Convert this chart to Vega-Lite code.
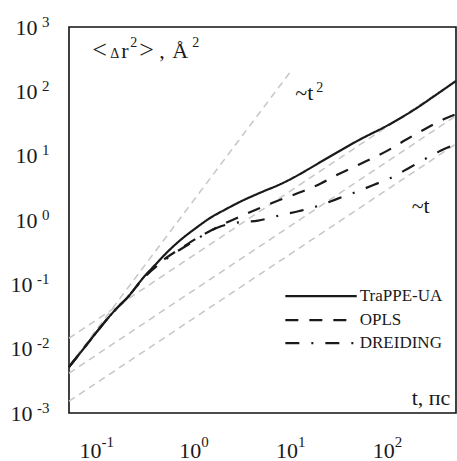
{
  "$schema": "https://vega.github.io/schema/vega-lite/v6.json",
  "width": 387,
  "height": 386,
  "autosize": {"type": "none"},
  "padding": {"left": 69, "top": 27, "right": 1, "bottom": 48},
  "background": "white",
  "config": {
    "view": {"stroke": "#111111", "strokeWidth": 1.6},
    "axis": {"domain": false, "grid": false, "labelFont": "Liberation Serif", "labelColor": "#1a1a1a", "title": null}
  },
  "datasets": {
    "guides": [
      {"g": "t2", "t": 0.05, "v": 0.00535}, {"g": "t2", "t": 9.7, "v": 201},
      {"g": "a", "t": 0.05, "v": 0.01455}, {"g": "a", "t": 500, "v": 145.5},
      {"g": "b", "t": 0.05, "v": 0.00416}, {"g": "b", "t": 500, "v": 41.6},
      {"g": "c", "t": 0.05, "v": 0.001525}, {"g": "c", "t": 500, "v": 15.25}
    ],
    "curves": [
      {"series": "TraPPE-UA", "t": 0.05, "v": 0.0052}, {"series": "TraPPE-UA", "t": 0.07, "v": 0.0098},
      {"series": "TraPPE-UA", "t": 0.1, "v": 0.0194}, {"series": "TraPPE-UA", "t": 0.15, "v": 0.04},
      {"series": "TraPPE-UA", "t": 0.2, "v": 0.062}, {"series": "TraPPE-UA", "t": 0.3, "v": 0.132},
      {"series": "TraPPE-UA", "t": 0.4, "v": 0.21}, {"series": "TraPPE-UA", "t": 0.5, "v": 0.3},
      {"series": "TraPPE-UA", "t": 0.7, "v": 0.48}, {"series": "TraPPE-UA", "t": 1.0, "v": 0.73},
      {"series": "TraPPE-UA", "t": 1.5, "v": 1.12}, {"series": "TraPPE-UA", "t": 2.0, "v": 1.42},
      {"series": "TraPPE-UA", "t": 3.0, "v": 1.95}, {"series": "TraPPE-UA", "t": 5.0, "v": 2.75},
      {"series": "TraPPE-UA", "t": 7.5, "v": 3.55}, {"series": "TraPPE-UA", "t": 10, "v": 4.4},
      {"series": "TraPPE-UA", "t": 15, "v": 6.2}, {"series": "TraPPE-UA", "t": 20, "v": 8.0},
      {"series": "TraPPE-UA", "t": 30, "v": 11.4}, {"series": "TraPPE-UA", "t": 50, "v": 17.6},
      {"series": "TraPPE-UA", "t": 100, "v": 30}, {"series": "TraPPE-UA", "t": 200, "v": 56},
      {"series": "TraPPE-UA", "t": 300, "v": 85}, {"series": "TraPPE-UA", "t": 500, "v": 145},
      {"series": "OPLS", "t": 0.05, "v": 0.0052}, {"series": "OPLS", "t": 0.07, "v": 0.0098},
      {"series": "OPLS", "t": 0.1, "v": 0.0194}, {"series": "OPLS", "t": 0.15, "v": 0.04},
      {"series": "OPLS", "t": 0.2, "v": 0.062}, {"series": "OPLS", "t": 0.3, "v": 0.13},
      {"series": "OPLS", "t": 0.4, "v": 0.195}, {"series": "OPLS", "t": 0.5, "v": 0.255},
      {"series": "OPLS", "t": 0.7, "v": 0.355}, {"series": "OPLS", "t": 1.0, "v": 0.5},
      {"series": "OPLS", "t": 1.5, "v": 0.7}, {"series": "OPLS", "t": 2.0, "v": 0.87},
      {"series": "OPLS", "t": 3.0, "v": 1.15}, {"series": "OPLS", "t": 5.0, "v": 1.6},
      {"series": "OPLS", "t": 7.5, "v": 2.05}, {"series": "OPLS", "t": 10, "v": 2.4},
      {"series": "OPLS", "t": 20, "v": 3.7}, {"series": "OPLS", "t": 30, "v": 5.1},
      {"series": "OPLS", "t": 50, "v": 7.3}, {"series": "OPLS", "t": 100, "v": 12.2},
      {"series": "OPLS", "t": 150, "v": 17.5}, {"series": "OPLS", "t": 250, "v": 27},
      {"series": "OPLS", "t": 400, "v": 38.5}, {"series": "OPLS", "t": 500, "v": 44},
      {"series": "DREIDING", "t": 0.05, "v": 0.0052}, {"series": "DREIDING", "t": 0.07, "v": 0.0098},
      {"series": "DREIDING", "t": 0.1, "v": 0.0194}, {"series": "DREIDING", "t": 0.15, "v": 0.04},
      {"series": "DREIDING", "t": 0.2, "v": 0.062}, {"series": "DREIDING", "t": 0.3, "v": 0.128},
      {"series": "DREIDING", "t": 0.4, "v": 0.19}, {"series": "DREIDING", "t": 0.5, "v": 0.245},
      {"series": "DREIDING", "t": 0.7, "v": 0.345}, {"series": "DREIDING", "t": 1.0, "v": 0.48},
      {"series": "DREIDING", "t": 1.3, "v": 0.62}, {"series": "DREIDING", "t": 1.7, "v": 0.76},
      {"series": "DREIDING", "t": 2.2, "v": 0.86}, {"series": "DREIDING", "t": 3.0, "v": 0.93},
      {"series": "DREIDING", "t": 4.5, "v": 0.98}, {"series": "DREIDING", "t": 6.0, "v": 1.08},
      {"series": "DREIDING", "t": 7.5, "v": 1.18}, {"series": "DREIDING", "t": 12, "v": 1.38},
      {"series": "DREIDING", "t": 18, "v": 1.62}, {"series": "DREIDING", "t": 30, "v": 2.15},
      {"series": "DREIDING", "t": 47, "v": 2.75}, {"series": "DREIDING", "t": 70, "v": 3.5},
      {"series": "DREIDING", "t": 110, "v": 4.65}, {"series": "DREIDING", "t": 165, "v": 6.5},
      {"series": "DREIDING", "t": 240, "v": 8.9}, {"series": "DREIDING", "t": 350, "v": 12.0},
      {"series": "DREIDING", "t": 500, "v": 15.1}
    ],
    "legend": [
      {"series": "TraPPE-UA", "t1": 8.61, "t2": 47.1, "tl": 50.6, "v": 0.0655},
      {"series": "OPLS", "t1": 8.61, "t2": 47.1, "tl": 50.6, "v": 0.0277},
      {"series": "DREIDING", "t1": 8.61, "t2": 47.1, "tl": 50.6, "v": 0.0122}
    ],
    "brackets": [
      {"label": "<", "t": 0.0867, "v": 330},
      {"label": ">", "t": 0.266, "v": 330}
    ],
    "delta": [
      {"label": "Δ", "t": 0.1331, "v": 330}
    ],
    "notes": [
      {"label": "r", "t": 0.1731, "v": 330},
      {"label": ",", "t": 0.4286, "v": 330},
      {"label": "Å", "t": 0.5845, "v": 330},
      {"label": "~t", "t": 10.9, "v": 73.3},
      {"label": "~t", "t": 174, "v": 1.28},
      {"label": "t, пс", "t": 174, "v": 0.00132}
    ],
    "supers": [
      {"label": "2", "t": 0.2146, "v": 489},
      {"label": "2", "t": 0.9421, "v": 489},
      {"label": "2", "t": 18.0, "v": 97.5}
    ]
  },
  "layer": [
    {
      "data": {"name": "guides"},
      "mark": {"type": "line", "stroke": "#c6c6c6", "strokeWidth": 1.5, "strokeDash": [7, 5]},
      "encoding": {
        "x": {"field": "t", "type": "quantitative", "scale": {"type": "log", "domain": [0.05, 500], "nice": false},
          "axis": {"orient": "bottom", "values": [0.1, 1, 10, 100], "tickSize": 12, "tickOpacity": 0, "labelExpr": "'10'", "labelFontSize": 22, "labelBaseline": "top", "labelPadding": 15,
            "labelOffset": {"condition": {"test": "datum.value < 1", "value": -8}, "value": -5}}},
        "y": {"field": "v", "type": "quantitative", "scale": {"type": "log", "domain": [0.001, 1000], "nice": false},
          "axis": {"orient": "left", "values": [0.001, 0.01, 0.1, 1, 10, 100, 1000], "tickSize": 12, "tickOpacity": 0, "labelExpr": "'10'", "labelFontSize": 22, "labelBaseline": "middle",
            "labelPadding": {"condition": {"test": "datum.value < 1", "value": 25}, "value": 20}}},
        "detail": {"field": "g"}
      }
    },
    {
      "data": {"name": "curves"},
      "mark": {"type": "line", "stroke": "#1a1a1a", "strokeWidth": 2.2, "interpolate": "monotone"},
      "encoding": {
        "x": {"field": "t", "type": "quantitative", "scale": {"type": "log", "domain": [0.05, 500], "nice": false}, "axis": null},
        "y": {"field": "v", "type": "quantitative", "scale": {"type": "log", "domain": [0.001, 1000], "nice": false}, "axis": null},
        "strokeDash": {"field": "series", "type": "nominal", "scale": {"domain": ["TraPPE-UA", "OPLS", "DREIDING"], "range": [[1, 0], [13, 11], [14, 12, 2, 12]]}, "legend": null}
      }
    },
    {
      "data": {"name": "legend"},
      "mark": {"type": "rule", "stroke": "#1a1a1a", "strokeWidth": 2.2},
      "encoding": {
        "x": {"field": "t1", "type": "quantitative", "scale": {"type": "log", "domain": [0.05, 500], "nice": false},
          "axis": {"orient": "bottom", "values": [0.1, 1, 10, 100], "tickSize": 0, "tickOpacity": 0, "labelExpr": "'' + round(log(datum.value)/LN10)", "labelFontSize": 15, "labelAlign": "left", "labelBaseline": "top", "labelPadding": 21,
            "labelOffset": {"condition": {"test": "datum.value < 1", "value": 3}, "value": 6}}},
        "x2": {"field": "t2"},
        "y": {"field": "v", "type": "quantitative", "scale": {"type": "log", "domain": [0.001, 1000], "nice": false},
          "axis": {"orient": "left", "values": [0.001, 0.01, 0.1, 1, 10, 100, 1000], "tickSize": 0, "tickOpacity": 0, "labelExpr": "'' + round(log(datum.value)/LN10)", "labelFontSize": 15, "labelAlign": "right", "labelBaseline": "middle", "labelPadding": 20, "labelOffset": -6}},
        "strokeDash": {"field": "series", "type": "nominal", "legend": null}
      }
    },
    {
      "data": {"name": "legend"},
      "mark": {"type": "text", "font": "Liberation Serif", "fontSize": 17, "align": "left", "baseline": "middle", "color": "#1a1a1a"},
      "encoding": {
        "x": {"field": "tl", "type": "quantitative", "scale": {"type": "log", "domain": [0.05, 500], "nice": false}, "axis": null},
        "y": {"field": "v", "type": "quantitative", "scale": {"type": "log", "domain": [0.001, 1000], "nice": false}, "axis": null},
        "text": {"field": "series"}
      }
    },
    {
      "data": {"name": "brackets"},
      "mark": {"type": "text", "font": "Liberation Serif", "fontSize": 26, "align": "left", "baseline": "alphabetic", "color": "#1a1a1a"},
      "encoding": {
        "x": {"field": "t", "type": "quantitative", "scale": {"type": "log", "domain": [0.05, 500], "nice": false}, "axis": null},
        "y": {"field": "v", "type": "quantitative", "scale": {"type": "log", "domain": [0.001, 1000], "nice": false}, "axis": null},
        "text": {"field": "label"}
      }
    },
    {
      "data": {"name": "delta"},
      "mark": {"type": "text", "font": "Liberation Serif", "fontSize": 14, "align": "left", "baseline": "alphabetic", "color": "#1a1a1a"},
      "encoding": {
        "x": {"field": "t", "type": "quantitative", "scale": {"type": "log", "domain": [0.05, 500], "nice": false}, "axis": null},
        "y": {"field": "v", "type": "quantitative", "scale": {"type": "log", "domain": [0.001, 1000], "nice": false}, "axis": null},
        "text": {"field": "label"}
      }
    },
    {
      "data": {"name": "notes"},
      "mark": {"type": "text", "font": "Liberation Serif", "fontSize": 22, "align": "left", "baseline": "alphabetic", "color": "#1a1a1a"},
      "encoding": {
        "x": {"field": "t", "type": "quantitative", "scale": {"type": "log", "domain": [0.05, 500], "nice": false}, "axis": null},
        "y": {"field": "v", "type": "quantitative", "scale": {"type": "log", "domain": [0.001, 1000], "nice": false}, "axis": null},
        "text": {"field": "label"}
      }
    },
    {
      "data": {"name": "supers"},
      "mark": {"type": "text", "font": "Liberation Serif", "fontSize": 14, "align": "left", "baseline": "alphabetic", "color": "#1a1a1a"},
      "encoding": {
        "x": {"field": "t", "type": "quantitative", "scale": {"type": "log", "domain": [0.05, 500], "nice": false}, "axis": null},
        "y": {"field": "v", "type": "quantitative", "scale": {"type": "log", "domain": [0.001, 1000], "nice": false}, "axis": null},
        "text": {"field": "label"}
      }
    }
  ],
  "resolve": {"axis": {"x": "independent", "y": "independent"}}
}
